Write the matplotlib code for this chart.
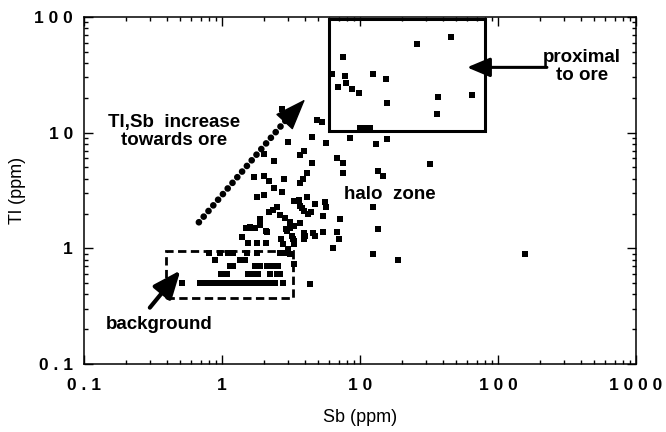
import matplotlib.pyplot as plt
from matplotlib.patches import Rectangle
from matplotlib.ticker import NullFormatter

plt.rcParams['font.family'] = ['Liberation Sans', 'DejaVu Sans']

# samples inside the ore box
sb_ore = [26, 46, 7.5, 6.3, 7.8, 7.9, 6.9, 8.8, 9.9, 12.4, 15.4, 15.8, 37, 65, 36, 10, 10.8, 11.9]
tl_ore = [59, 67, 45, 32, 31, 27, 25, 24, 22, 32, 29, 18, 20.5, 21, 14.4, 11, 10.9, 10.9]

# halo zone, upper part
sb_halo = [4.9, 5.3, 2.7, 4.5, 3.0, 5.7, 8.5, 15.6, 13.1, 3.9, 3.7, 6.8, 7.5, 2.4, 2.0, 4.5,
           32, 7.5, 13.6, 14.7, 4.1, 1.7, 2.0, 2.2, 2.8, 3.85, 3.7, 2.4, 2.7, 1.8, 2.0, 3.3,
           3.6, 4.1, 3.8, 3.9, 4.7, 4.4, 5.6, 5.7, 5.4, 7.2, 12.5, 5.4, 6.8, 7.0, 6.4, 13.4,
           12.5, 19, 158]
tl_halo = [12.8, 12.4, 16, 9.2, 8.3, 8.2, 9.0, 8.9, 8.0, 6.9, 6.4, 6.0, 5.5, 5.7, 6.5, 5.5,
           5.4, 4.45, 4.65, 4.2, 4.45, 4.1, 4.2, 3.8, 4.0, 3.95, 3.65, 3.3, 3.1, 2.8, 2.9, 2.55,
           2.6, 2.8, 2.25, 2.1, 2.4, 2.05, 2.5, 2.3, 1.9, 1.78, 2.3, 1.38, 1.38, 1.2, 1.0, 1.48,
           0.89, 0.79, 0.89]

# halo zone, lower part
sb_mid = [2.2, 2.35, 2.5, 2.63, 2.86, 3.1, 3.3, 3.67, 4.2, 3.67, 1.9, 1.6, 1.73, 1.88, 2.13,
          1.4, 2.66, 2.9, 3.1, 2.78, 3.0, 3.1, 2.94, 3.2, 3.9, 4.6, 4.7, 4.0, 3.9, 3.25, 3.3,
          2.78, 3.3, 1.5, 1.64, 2.1, 1.55, 1.78, 2.1, 3.3, 4.34]
tl_mid = [2.05, 2.15, 2.3, 1.95, 1.84, 1.7, 1.56, 2.32, 1.97, 1.67, 1.78, 1.52, 1.5, 1.58, 1.39,
          1.25, 1.2, 1.46, 1.5, 1.08, 0.98, 0.89, 1.41, 1.28, 1.37, 1.37, 1.28, 1.28, 1.2, 1.2, 1.08,
          0.92, 0.73, 1.5, 1.5, 1.41, 1.12, 1.12, 1.12, 1.16, 0.49]

# background samples
sb_bg = [0.80, 0.97, 1.11, 1.21, 1.51, 1.78, 2.63, 2.8,
         0.89, 1.35, 1.47,
         1.14, 1.21, 1.73, 1.88, 2.11, 2.29, 2.56,
         0.99, 1.08, 1.55, 1.69, 1.83, 2.23, 2.49, 2.63,
         0.51, 0.69, 0.77, 0.85, 0.92, 1.0, 1.09, 1.18, 1.28, 1.4, 1.52, 1.65, 1.79, 1.95,
         2.12, 2.23, 2.42, 2.78]
tl_bg = [0.92, 0.92, 0.92, 0.92, 0.92, 0.92, 0.92, 0.92,
         0.8, 0.8, 0.8,
         0.7, 0.7, 0.7, 0.7, 0.7, 0.7, 0.7,
         0.6, 0.6, 0.6, 0.6, 0.6, 0.6, 0.6, 0.6,
         0.5, 0.5, 0.5, 0.5, 0.5, 0.5, 0.5, 0.5, 0.5, 0.5, 0.5, 0.5, 0.5, 0.5,
         0.5, 0.5, 0.5, 0.5]

xticks = [0.1, 1, 10, 100, 1000]
xtick_labels = ['0 . 1', '1', '1 0', '1 0 0', '1 0 0 0']
yticks = [0.1, 1, 10, 100]
ytick_labels = ['0 . 1', '1', '1 0', '1 0 0']

fig = plt.figure(figsize=(6.66, 4.32), dpi=100)
ax = fig.add_axes([0.1261, 0.1574, 0.8289, 0.8032])

for sb, tl in [(sb_ore, tl_ore), (sb_halo, tl_halo), (sb_mid, tl_mid), (sb_bg, tl_bg)]:
    ax.plot(sb, tl, 's', color='k', ms=5, mew=0, linestyle='none')

ax.set_xscale('log')
ax.set_yscale('log')
ax.set_xlim(0.1, 1000)
ax.set_ylim(0.1, 100)

# zone outlines
ax.add_patch(Rectangle((6.0, 10.3), 80 - 6.0, 97 - 10.3, fill=False, lw=2.2, ec='k'))
ax.add_patch(Rectangle((0.39, 0.375), 3.29 - 0.39, 0.95 - 0.375, fill=False, lw=2.0, ec='k',
                       linestyle=(0, (3, 1.6))))

# trend arrow, dotted shaft then solid head
ax.plot([0.68, 2.9], [1.68, 12.8], color='k', lw=4.8, linestyle=(0, (0.01, 1.1)),
        dash_capstyle='round')
ax.annotate('', xy=(4.0, 19.4), xytext=(2.9, 12.8),
            arrowprops=dict(arrowstyle='-|>,head_length=1.35,head_width=0.5', mutation_scale=15,
                            color='k', lw=1, shrinkA=0, shrinkB=0))
ax.annotate('', xy=(59.6, 36.7), xytext=(226, 36.7),
            arrowprops=dict(arrowstyle='-|>,head_length=1.0,head_width=0.42', mutation_scale=14,
                            color='k', lw=2.2, shrinkA=0, shrinkB=0))
ax.annotate('', xy=(0.50, 0.645), xytext=(0.30, 0.307),
            arrowprops=dict(arrowstyle='-|>,head_length=1.2,head_width=0.5', mutation_scale=14,
                            color='k', lw=3, shrinkA=0, shrinkB=0))

tfont = dict(fontsize=13.5, fontweight='bold', ha='center', va='center')
ax.text(0.45, 10.3, 'Tl,Sb  increase\ntowards ore', linespacing=1.1, **tfont)
ax.text(16.5, 2.93, 'halo  zone', **tfont)
ax.text(406, 37.4, 'proximal\nto ore', linespacing=1.1, **tfont)
ax.text(0.35, 0.22, 'background', **tfont)

ax.set_xticks(xticks)
ax.set_xticklabels(xtick_labels)
ax.set_yticks(yticks)
ax.set_yticklabels(ytick_labels)
ax.xaxis.set_minor_formatter(NullFormatter())
ax.yaxis.set_minor_formatter(NullFormatter())
ax.tick_params(which='both', direction='in', top=True, right=True, width=1)
ax.tick_params(which='major', length=6.5, labelsize=12.5)
ax.tick_params(which='minor', length=3)
ax.tick_params(axis='x', which='major', pad=10)
ax.tick_params(axis='y', which='major', pad=8)
for lbl in ax.get_xticklabels() + ax.get_yticklabels():
    lbl.set_fontweight('bold')
for sp in ax.spines.values():
    sp.set_linewidth(1.1)

ax.set_xlabel('Sb (ppm)', fontsize=13)
ax.set_ylabel('Tl (ppm)', fontsize=13)
ax.xaxis.set_label_coords(0.5, -0.13)
ax.yaxis.set_label_coords(-0.105, 0.5)

fig.savefig('out.png', dpi=100)
